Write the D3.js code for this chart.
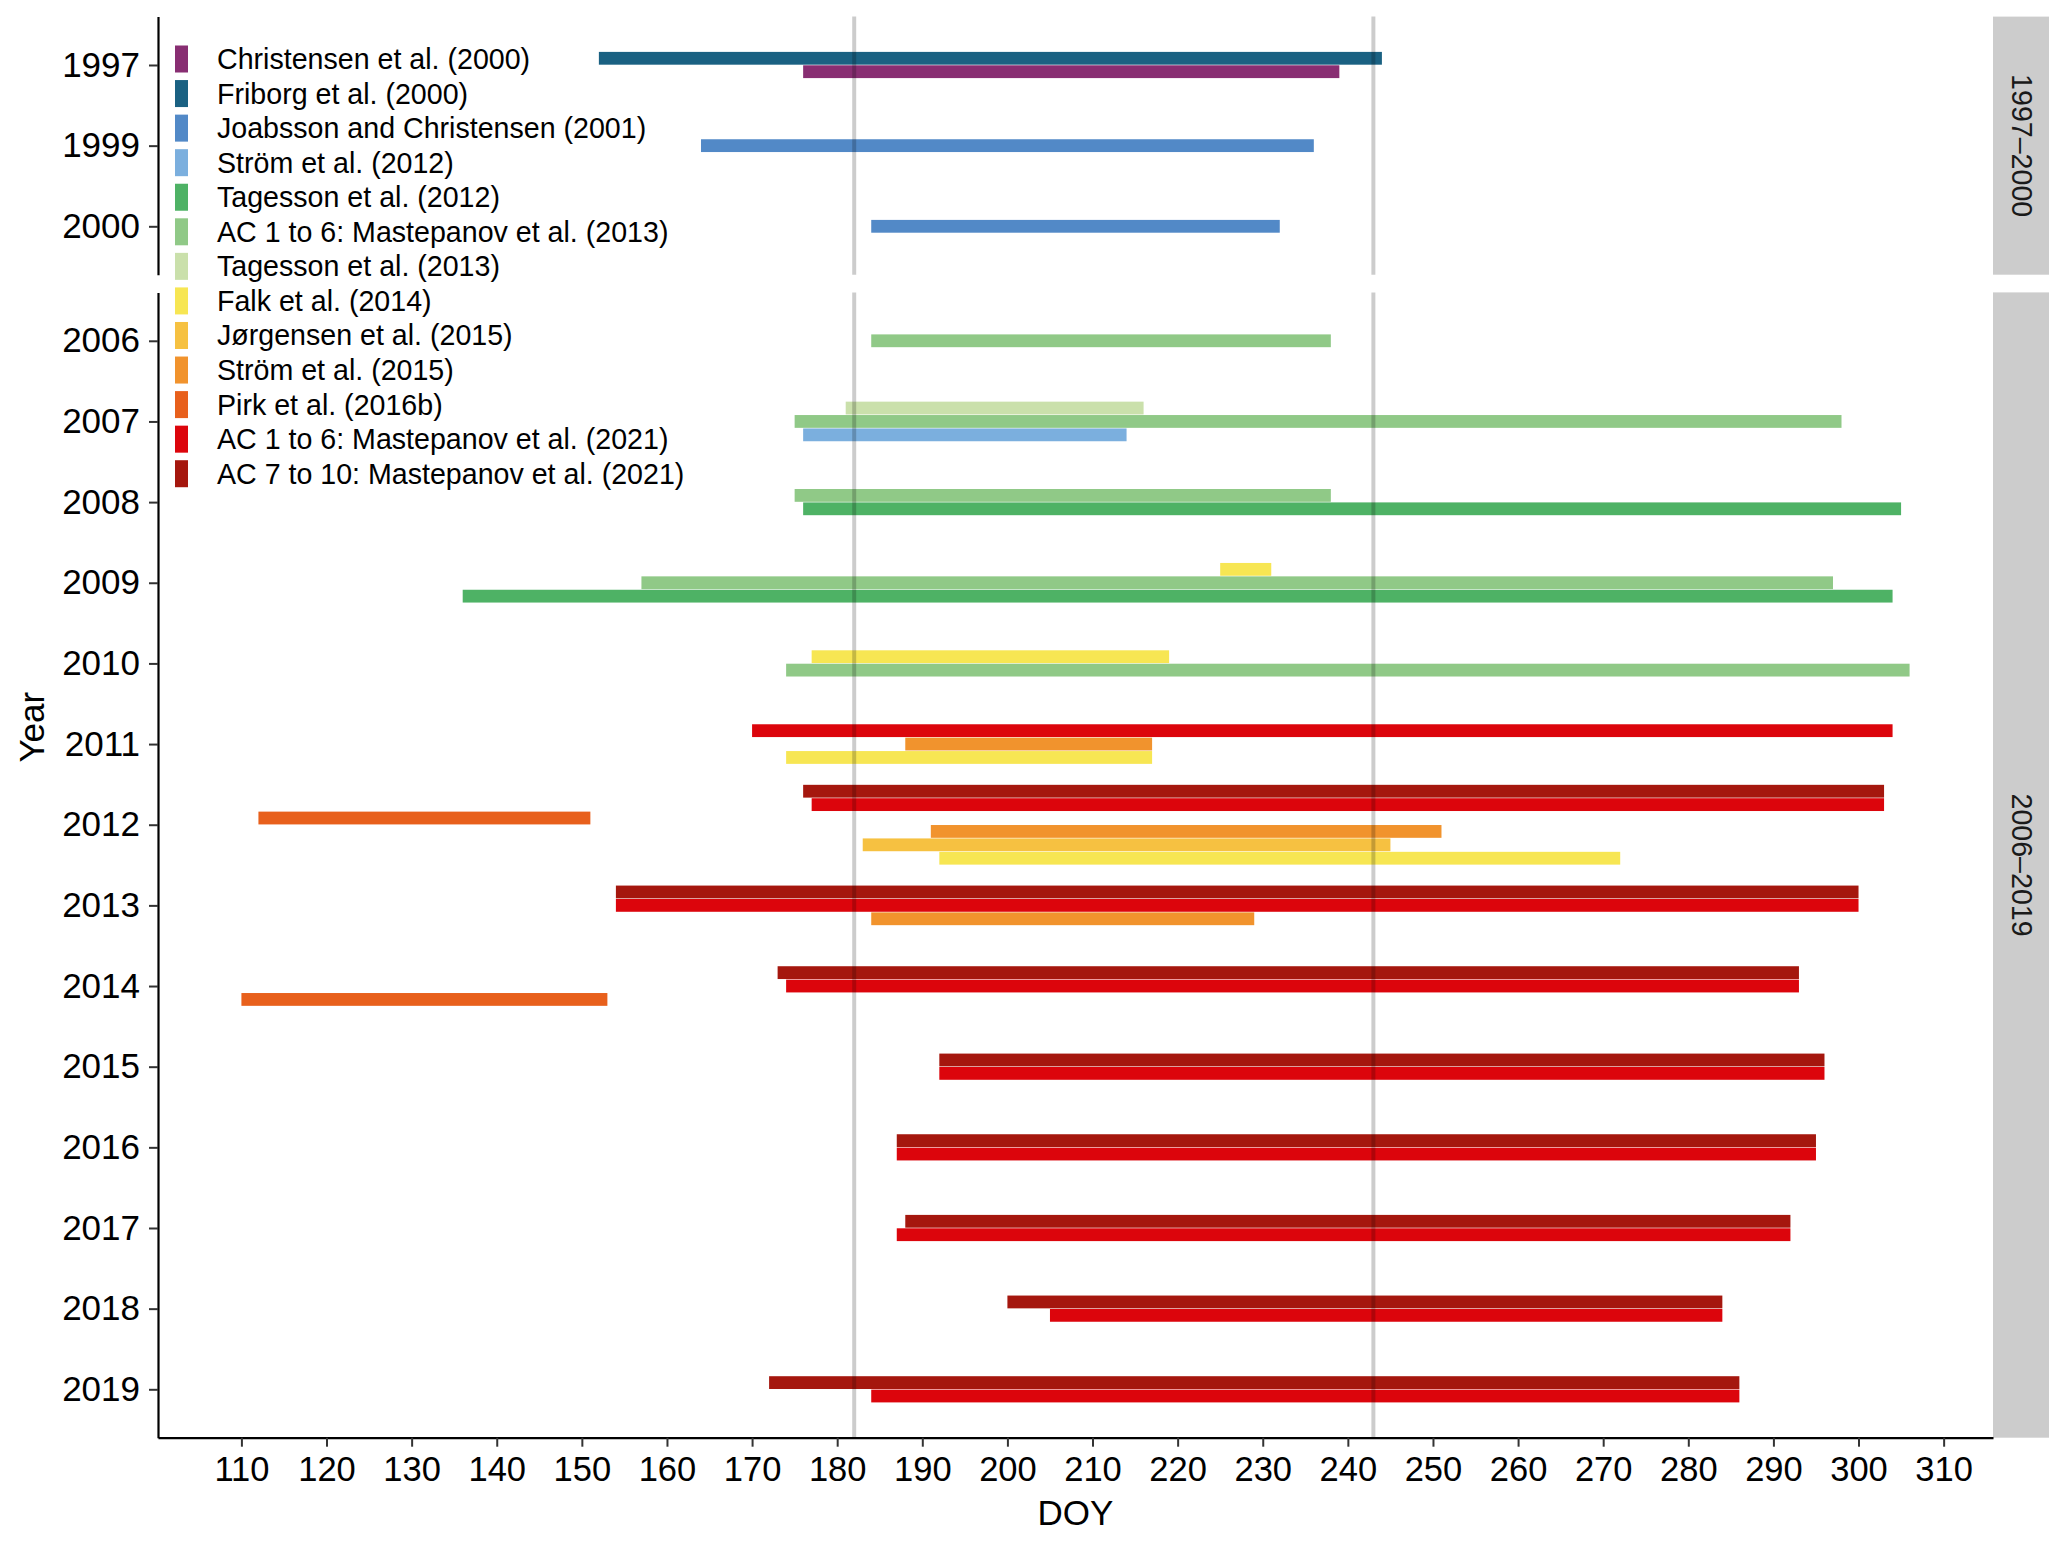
<!DOCTYPE html>
<html>
<head>
<meta charset="utf-8">
<script src="https://cdn.jsdelivr.net/npm/d3@7"></script>
<style>
  html, body { margin: 0; padding: 0; background: #fff; }
  svg { display: block; font-family: "Liberation Sans", Arial, sans-serif; }
</style>
</head>
<body>
<svg id="chart" width="2067" height="1543"></svg>
<script>
// Study names, legend order (top to bottom)
const studies = [
    'Christensen et al. (2000)',
    'Friborg et al. (2000)',
    'Joabsson and Christensen (2001)',
    'Ström et al. (2012)',
    'Tagesson et al. (2012)',
    'AC 1 to 6: Mastepanov et al. (2013)',
    'Tagesson et al. (2013)',
    'Falk et al. (2014)',
    'Jørgensen et al. (2015)',
    'Ström et al. (2015)',
    'Pirk et al. (2016b)',
    'AC 1 to 6: Mastepanov et al. (2021)',
    'AC 7 to 10: Mastepanov et al. (2021)'
];

const studyColors = [
    '#882E72', '#1A6182', '#5289C7', '#7BAFDE', '#4EB265', '#90C987', '#CAE0AB',
    '#F7E653', '#F6C141', '#F1932D', '#E8601C', '#DC050C', '#A5170E'
];

// Measurement periods per study: [year, start DOY, end DOY]
const periods = [
    [[1997, 176, 239]],
    [[1997, 152, 244]],
    [[1999, 164, 236], [2000, 184, 232]],
    [[2007, 176, 214]],
    [[2008, 176, 305], [2009, 136, 304]],
    [[2006, 184, 238], [2007, 175, 298], [2008, 175, 238], [2009, 157, 297], [2010, 174, 306]],
    [[2007, 181, 216]],
    [[2009, 225, 231], [2010, 177, 219], [2011, 174, 217], [2012, 192, 272]],
    [[2012, 183, 245]],
    [[2011, 188, 217], [2012, 191, 251], [2013, 184, 229]],
    [[2012, 112, 151], [2014, 110, 153]],
    [[2011, 170, 304], [2012, 177, 303], [2013, 154, 300], [2014, 174, 293], [2015, 192, 296],
     [2016, 187, 295], [2017, 187, 292], [2018, 205, 284], [2019, 184, 286]],
    [[2012, 176, 303], [2013, 154, 300], [2014, 173, 293], [2015, 192, 296],
     [2016, 187, 295], [2017, 188, 292], [2018, 200, 284], [2019, 172, 286]]
];

// Facet rows
const panelLabels = ['1997–2000', '2006–2019'];
const panelYears = [
    [1997, 1999, 2000],
    [2006, 2007, 2008, 2009, 2010, 2011, 2012, 2013, 2014, 2015, 2016, 2017, 2018, 2019]
];

// Reference lines (DOY)
const refLines = [182, 243];

// x tick values
const xTicks = d3.range(110, 311, 10);

// ---- layout ----
const plotLeft = 158;
const plotRight = 1993;
const plotTop = 16.6;
const plotBottom = 1437.7;
const panelGap = 17.7;
const stripWidth = 56;
const barStep = 13.4;
const barHeight = 12.8;
const axisFont = 35;
const smallFont = 28.6;

const svg = d3.select('#chart');

// Flatten bars
const bars = [];
periods.forEach((list, s) => {
    list.forEach(([year, start, end]) => bars.push({ study: s, year, start, end }));
});

// x scale with 5% expansion (as ggplot)
const xMin = d3.min(bars, d => d.start);
const xMax = d3.max(bars, d => d.end);
const pad = (xMax - xMin) * 0.05;
const x = d3.scaleLinear()
    .domain([xMin - pad, xMax + pad])
    .range([plotLeft, plotRight]);

// Panel heights proportional to number of years (free space)
const units = panelYears.map(ys => ys.length - 1 + 1.2);
const unitPx = (plotBottom - plotTop - panelGap * (panelYears.length - 1)) / d3.sum(units);

let cursor = plotTop;
const panels = panelYears.map((years, i) => {
    const top = cursor;
    const bottom = top + units[i] * unitPx;
    cursor = bottom + panelGap;
    const y = d3.scalePoint().domain(years).range([top, bottom]).padding(0.6);
    return { years, top, bottom, y, label: panelLabels[i] };
});

const barsLayer = svg.append('g').attr('class', 'bars');
const linesLayer = svg.append('g').attr('class', 'ref-lines');

panels.forEach(panel => {
    // bars per year, highest legend index on top
    panel.years.forEach(year => {
        const group = bars.filter(b => b.year === year)
            .sort((a, b) => b.study - a.study);
        const n = group.length;
        group.forEach((b, i) => {
            const cy = panel.y(year) + (i - (n - 1) / 2) * barStep;
            barsLayer.append('rect')
                .attr('x', x(b.start))
                .attr('y', cy - barHeight / 2)
                .attr('width', x(b.end) - x(b.start))
                .attr('height', barHeight)
                .attr('fill', studyColors[b.study]);
        });
    });

    // vertical reference lines
    linesLayer.selectAll(null)
        .data(refLines)
        .join('line')
        .attr('x1', d => x(d))
        .attr('x2', d => x(d))
        .attr('y1', panel.top)
        .attr('y2', panel.bottom)
        .attr('stroke', '#000')
        .attr('stroke-opacity', 0.2)
        .attr('stroke-width', 4);

    // y axis
    const yAxis = svg.append('g')
        .attr('transform', `translate(${plotLeft},0)`)
        .call(d3.axisLeft(panel.y).tickSize(9).tickSizeOuter(0).tickPadding(9).tickFormat(d3.format('d')));
    yAxis.select('.domain').attr('stroke', '#000').attr('stroke-width', 2.2);
    yAxis.selectAll('.tick line').attr('stroke', '#333').attr('stroke-width', 2);
    yAxis.selectAll('.tick text')
        .attr('font-size', axisFont)
        .attr('fill', '#000')
        .attr('font-family', '"Liberation Sans", Arial, sans-serif');

    // facet strip
    svg.append('rect')
        .attr('x', plotRight)
        .attr('y', panel.top)
        .attr('width', stripWidth)
        .attr('height', panel.bottom - panel.top)
        .attr('fill', '#CCCCCC');
    svg.append('text')
        .attr('transform', `translate(${plotRight + stripWidth / 2 + 1},${(panel.top + panel.bottom) / 2}) rotate(90)`)
        .attr('text-anchor', 'middle')
        .attr('dominant-baseline', 'central')
        .attr('font-size', smallFont)
        .attr('fill', '#1A1A1A')
        .text(panel.label);
});

// x axis (bottom panel only)
const lastPanel = panels[panels.length - 1];
const xAxis = svg.append('g')
    .attr('transform', `translate(0,${lastPanel.bottom})`)
    .call(d3.axisBottom(x).tickValues(xTicks).tickSize(9).tickSizeOuter(0).tickPadding(10));
xAxis.select('.domain').attr('stroke', '#000').attr('stroke-width', 2.2);
xAxis.selectAll('.tick line').attr('stroke', '#333').attr('stroke-width', 2);
xAxis.selectAll('.tick text')
    .attr('font-size', 34.5)
    .attr('fill', '#000')
    .attr('font-family', '"Liberation Sans", Arial, sans-serif');

// axis titles
svg.append('text')
    .attr('x', (plotLeft + plotRight) / 2)
    .attr('y', 1525)
    .attr('text-anchor', 'middle')
    .attr('font-size', axisFont)
    .attr('fill', '#000')
    .text('DOY');

svg.append('text')
    .attr('transform', `translate(44,${(plotTop + plotBottom) / 2}) rotate(-90)`)
    .attr('text-anchor', 'middle')
    .attr('font-size', axisFont)
    .attr('fill', '#000')
    .text('Year');

// legend (inside, top-left)
const legend = svg.append('g').attr('class', 'legend');
const legendTop = 59;
const legendStep = 34.56;
studies.forEach((name, i) => {
    const cy = legendTop + i * legendStep;
    legend.append('rect')
        .attr('x', 175)
        .attr('y', cy - 13.5)
        .attr('width', 13)
        .attr('height', 27)
        .attr('fill', studyColors[i]);
    legend.append('text')
        .attr('x', 217)
        .attr('y', cy)
        .attr('dominant-baseline', 'central')
        .attr('font-size', smallFont)
        .attr('fill', '#000')
        .text(name);
});
</script>
</body>
</html>
